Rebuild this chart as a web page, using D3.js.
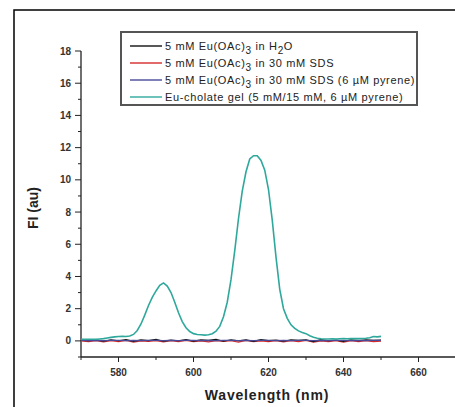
<!DOCTYPE html>
<html><head><meta charset="utf-8">
<script src="https://cdn.jsdelivr.net/npm/d3@7"></script>
<style>body{margin:0;background:#fff}svg{display:block}text{font-family:Arial,"Liberation Sans",sans-serif}</style>
</head><body><svg id="c" width="455" height="407"></svg>
<script>
const seriesNames = ["5 mM Eu(OAc)3 in H2O","5 mM Eu(OAc)3 in 30 mM SDS","5 mM Eu(OAc)3 in 30 mM SDS (6 µM pyrene)","Eu-cholate gel (5 mM/15 mM, 6 µM pyrene)"];
const seriesColors = ["#111111","#d42a2a","#4a4a9a","#2fa89c"];
const wlBase = d3.range(570, 651, 2);
const h2o = [0.05,0.02,0.06,-0.02,0.07,0.01,0.08,-0.03,0.06,0.02,0.09,-0.02,0.05,0.01,0.08,-0.01,0.06,0.03,0.09,-0.02,0.07,0.01,0.06,-0.03,0.08,0.02,0.05,-0.02,0.07,0.03,0.06,-0.04,0.08,0.01,0.05,-0.03,0.07,0.02,0.06,0.03,0.05];
const sds = [0.00,-0.04,0.02,-0.06,0.01,-0.05,0.03,-0.07,0.00,-0.03,0.02,-0.06,0.01,-0.04,0.03,-0.05,0.00,-0.06,0.02,-0.03,0.01,-0.07,0.03,-0.04,0.00,-0.05,0.02,-0.06,0.01,-0.04,0.03,-0.08,0.00,-0.05,0.02,-0.07,0.01,-0.04,0.02,-0.05,-0.02];
const sdsPyr = [0.03,0.02,0.03,0.02,0.03,0.03,0.02,0.03,0.02,0.03,0.03,0.02,0.03,0.02,0.03,0.03,0.02,0.03,0.02,0.03,0.03,0.02,0.03,0.02,0.03,0.03,0.02,0.03,0.02,0.03,0.03,0.02,0.03,0.02,0.03,0.03,0.02,0.03,0.02,0.03,0.03];
const wlGel = d3.range(570, 651, 1);
const gel = [0.10,0.10,0.10,0.10,0.10,0.12,0.14,0.18,0.22,0.25,
 0.27,0.28,0.27,0.30,0.40,0.65,1.05,1.60,2.20,2.70,
 3.10,3.45,3.60,3.40,3.00,2.40,1.75,1.20,0.82,0.58,
 0.45,0.40,0.38,0.36,0.38,0.45,0.60,0.90,1.50,2.40,
 3.80,5.60,7.60,9.30,10.50,11.30,11.50,11.50,11.20,10.60,
 9.40,7.50,5.20,3.20,2.00,1.40,1.00,0.78,0.62,0.52,
 0.45,0.32,0.22,0.16,0.13,0.12,0.12,0.13,0.12,0.13,
 0.14,0.13,0.14,0.15,0.14,0.15,0.16,0.20,0.27,0.25,0.28];
const xTicks = [580,600,620,640,660];
const yTicks = [0,2,4,6,8,10,12,14,16,18];

const svg = d3.select("#c");
svg.append("rect").attr("x",14).attr("y",10).attr("width",460).attr("height",420)
  .attr("fill","#fff").attr("stroke","#000").attr("stroke-width",1.5);

const x = d3.scaleLinear().domain([570,670]).range([81,456]);
const y = d3.scaleLinear().domain([-1,18]).range([357,51]);

// axes
const xAxis = svg.append("g").attr("transform","translate(0,357)");
xAxis.append("line").attr("x1",x(570)).attr("x2",455).attr("stroke","#222").attr("stroke-width",1.3);
xAxis.selectAll(".mj").data(xTicks).join("line").attr("x1",d=>x(d)).attr("x2",d=>x(d)).attr("y1",0).attr("y2",5).attr("stroke","#222");
xAxis.selectAll(".mn").data(d3.range(570,671,10).filter(d=>!xTicks.includes(d))).join("line").attr("x1",d=>x(d)).attr("x2",d=>x(d)).attr("y1",0).attr("y2",3).attr("stroke","#222");
xAxis.selectAll("text").data(xTicks).join("text").attr("x",d=>x(d)).attr("y",19).attr("text-anchor","middle")
  .attr("font-size",10).attr("fill","#333").attr("font-weight","bold").text(d=>d);

const yAxis = svg.append("g").attr("transform","translate(81,0)");
yAxis.append("line").attr("y1",y(18)).attr("y2",y(-1)).attr("stroke","#222").attr("stroke-width",1.3);
yAxis.selectAll(".mj").data(yTicks).join("line").attr("x1",-6).attr("x2",0).attr("y1",d=>y(d)).attr("y2",d=>y(d)).attr("stroke","#222");
yAxis.selectAll(".mn").data(d3.range(-1,18,2)).join("line").attr("x1",-3).attr("x2",0).attr("y1",d=>y(d)).attr("y2",d=>y(d)).attr("stroke","#222");
yAxis.selectAll("text").data(yTicks).join("text").attr("x",-10).attr("y",d=>y(d)+3.5).attr("text-anchor","end")
  .attr("font-size",10).attr("fill","#333").attr("font-weight","bold").text(d=>d);

svg.append("text").attr("x",267).attr("y",400).attr("text-anchor","middle").attr("font-size",14).attr("font-weight","bold").attr("fill","#222").attr("letter-spacing",0.8).text("Wavelength (nm)");
svg.append("text").attr("transform","translate(38,208) rotate(-90)").attr("text-anchor","middle").attr("font-size",14).attr("font-weight","bold").attr("fill","#222").text("FI (au)");

// lines
const line = d3.line().x(d=>x(d[0])).y(d=>y(d[1]));
const data = [
  wlBase.map((w,i)=>[w,h2o[i]]),
  wlBase.map((w,i)=>[w,sds[i]]),
  wlBase.map((w,i)=>[w,sdsPyr[i]]),
  wlGel.map((w,i)=>[w,gel[i]])
];
[1,0,2,3].forEach(k=>{
  svg.append("path").attr("d",line(data[k])).attr("fill","none").attr("stroke",seriesColors[k]).attr("stroke-width",k===3?1.6:1.2);
});

// legend
const lg = svg.append("g");
lg.append("rect").attr("x",121).attr("y",32).attr("width",296).attr("height",73).attr("fill","#fff").attr("stroke","#555").attr("stroke-width",2);
const rows = [46,63,80,97];
function addLabel(t, i){
  const tx = lg.append("text").attr("x",165).attr("y",rows[i]+4).attr("font-size",11).attr("fill","#222").attr("letter-spacing",0.65);
  if(i<3){
    tx.append("tspan").text("5 mM  Eu(OAc)");
    tx.append("tspan").attr("dy",4).attr("font-size",10).text("3");
    if(i===0){
      tx.append("tspan").attr("dy",-4).text(" in H");
      tx.append("tspan").attr("dy",4).attr("font-size",10).text("2");
      tx.append("tspan").attr("dy",-4).text("O");
    } else if(i===1){
      tx.append("tspan").attr("dy",-4).text(" in 30 mM SDS");
    } else {
      tx.append("tspan").attr("dy",-4).text(" in 30 mM SDS (6 µM pyrene)");
    }
  } else {
    tx.text("Eu-cholate gel (5 mM/15 mM, 6 µM pyrene)");
  }
}
seriesNames.forEach((n,i)=>{
  lg.append("line").attr("x1",130).attr("x2",162).attr("y1",rows[i]).attr("y2",rows[i]).attr("stroke",seriesColors[i]).attr("stroke-width",1.4);
  addLabel(n,i);
});
</script></body></html>
